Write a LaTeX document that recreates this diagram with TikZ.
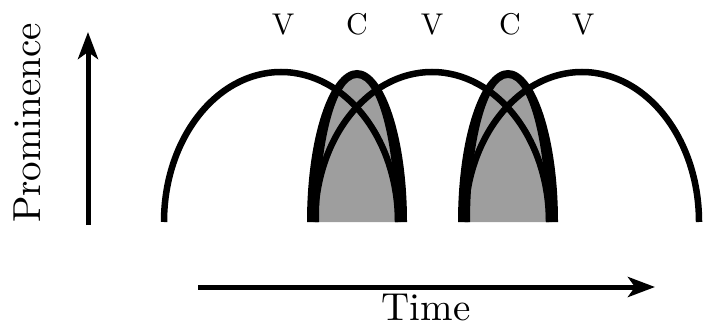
\documentclass[tikz,border=0pt]{standalone}
\usepackage{fontspec}
\newfontfamily\bigrm{lmroman10-regular}[Extension=.otf]
\usepackage{xcolor}
\definecolor{stipple}{RGB}{158,158,158}
\usetikzlibrary{arrows.meta}

\begin{document}
\begin{tikzpicture}[x=1pt,y=1pt,
  vowel/.style={line width=6.5pt},
  axis/.style={line width=5pt,-{Stealth[length=27pt,width=20pt,inset=7pt]}},
  seg/.style={font=\bigrm\fontsize{30}{31}\selectfont,anchor=base},
  lbl/.style={font=\bigrm\fontsize{39}{41}\selectfont,anchor=base}]
  \useasboundingbox (0,0) rectangle (703,327);
  % shaded consonant interiors
  \foreach \cx in {357,508}
    \fill[stipple] (\cx-44,105) arc[start angle=180,end angle=0,x radius=44,y radius=148] -- cycle;
  % vowel arcs
  \foreach \vx in {281,432,582}
    \draw[vowel] (\vx-117,105) arc[start angle=180,end angle=0,x radius=117,y radius=150];
  % consonant arches, thicker at the feet
  \foreach \cx in {357,508}
    \fill (\cx-50,105) arc[start angle=180,end angle=0,x radius=50,y radius=152]
      -- (\cx+38,105) arc[start angle=0,end angle=180,x radius=38,y radius=144] -- cycle;
  % axes
  \coordinate (pbot) at (88,102);
  \coordinate (ptop) at (88,295);
  \coordinate (tleft) at (198,40);
  \coordinate (tright) at (655,40);
  \draw[axis] (pbot) -- (ptop);
  \draw[axis] (tleft) -- (tright);
  \node[lbl,rotate=90] (prom) at (40,204) {Prominence};
  \node[lbl] (time) at (426,7) {Time};
  % segment labels
  \foreach \s/\px [count=\i] in {V/283,C/357,V/432,C/510,V/583}
    \node[seg] (seg\i) at (\px,292) {\s};
\end{tikzpicture}
\end{document}
